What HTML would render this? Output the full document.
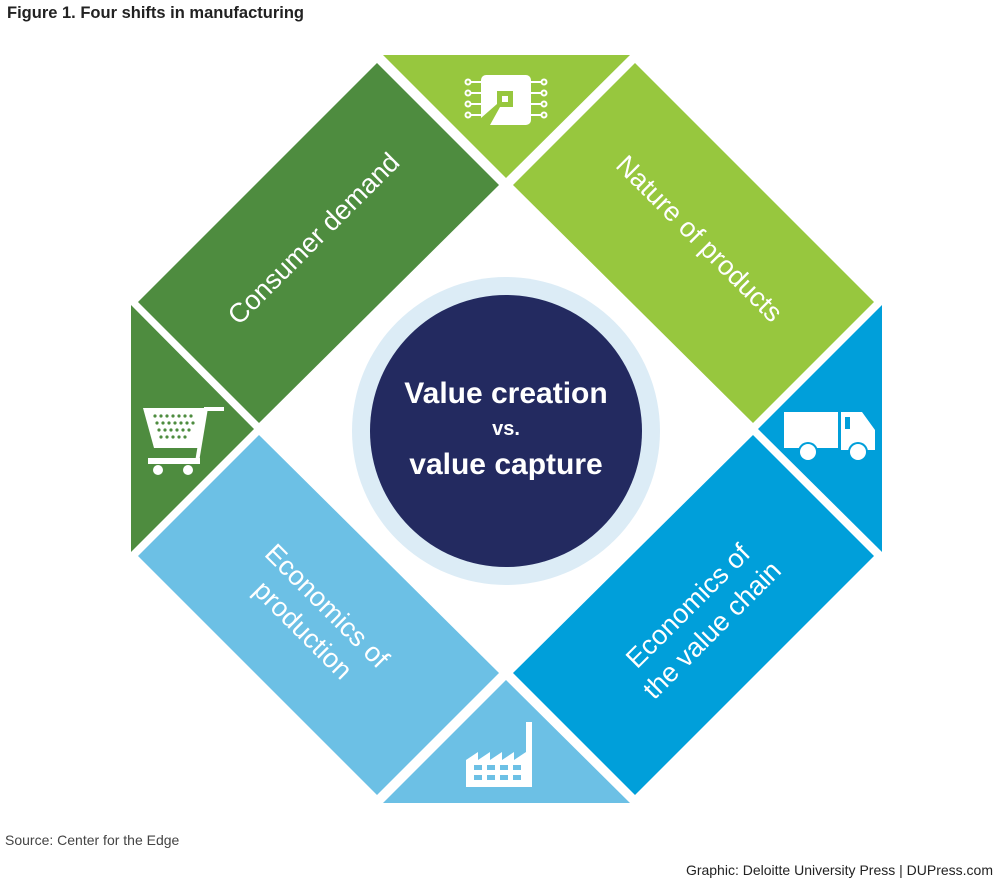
<!DOCTYPE html>
<html><head><meta charset="utf-8"><style>
html,body{margin:0;padding:0;background:#fff;}
svg{display:block;}
</style></head><body>
<svg width="1000" height="879" viewBox="0 0 1000 879" xmlns="http://www.w3.org/2000/svg" font-family="Liberation Sans, sans-serif">
<text x="7" y="18" font-size="16.5" font-weight="bold" fill="#222">Figure 1. Four shifts in manufacturing</text>

<polygon points="383,55 630,55 506,178" fill="#97c73e"/>
<polygon points="131,305 131,552 254,429" fill="#4e8c3f"/>
<polygon points="882,305 882,552 758,429" fill="#009fda"/>
<polygon points="383,803 630,803 506,680" fill="#6cc0e5"/>

<polygon points="377,63 499,185 259,423 138,302" fill="#4e8c3f"/>
<polygon points="635,63 513,185 753,423 874,302" fill="#97c73e"/>
<polygon points="377,795 499,673 259,435 138,556" fill="#6cc0e5"/>
<polygon points="635,795 513,673 753,435 874,556" fill="#009fda"/>

<text transform="translate(320,245) rotate(-45)" text-anchor="middle" font-size="27" fill="#fff">Consumer demand</text>
<text transform="translate(693,245) rotate(45)" text-anchor="middle" font-size="27" fill="#fff">Nature of products</text>
<g transform="translate(315,618) rotate(45)" fill="#fff" font-size="27" text-anchor="middle">
<text x="0" y="-8">Economics of</text><text x="0" y="26">production</text></g>
<g transform="translate(700,618) rotate(-45)" fill="#fff" font-size="27" text-anchor="middle">
<text x="0" y="-8">Economics of</text><text x="0" y="26">the value chain</text></g>

<circle cx="506" cy="431" r="154" fill="#dcecf6"/>
<circle cx="506" cy="431" r="136" fill="#232a60"/>
<text x="506" y="403" text-anchor="middle" font-size="30" font-weight="bold" fill="#fff">Value creation</text>
<text x="506" y="435" text-anchor="middle" font-size="20" font-weight="bold" fill="#fff">vs.</text>
<text x="506" y="474" text-anchor="middle" font-size="30" font-weight="bold" fill="#fff">value capture</text>

<g fill="#fff" stroke="#fff">
<rect x="481" y="75" width="50" height="50" rx="5" stroke="none"/>
<g fill="none" stroke-width="2">
<circle cx="468" cy="82" r="2.5"/><circle cx="468" cy="93" r="2.5"/><circle cx="468" cy="104" r="2.5"/><circle cx="468" cy="115" r="2.5"/>
<circle cx="544" cy="82" r="2.5"/><circle cx="544" cy="93" r="2.5"/><circle cx="544" cy="104" r="2.5"/><circle cx="544" cy="115" r="2.5"/>
<line x1="471" y1="82" x2="481" y2="82"/><line x1="471" y1="93" x2="481" y2="93"/><line x1="471" y1="104" x2="481" y2="104"/><line x1="471" y1="115" x2="481" y2="115"/>
<line x1="531" y1="82" x2="541" y2="82"/><line x1="531" y1="93" x2="541" y2="93"/><line x1="531" y1="104" x2="541" y2="104"/><line x1="531" y1="115" x2="541" y2="115"/>
</g></g>
<rect x="497" y="91" width="16" height="16" fill="#97c73e"/>
<rect x="502" y="96" width="6" height="6" fill="#fff"/>
<polygon points="481,125 481,118 497,104 500,107 490,125" fill="#97c73e"/>

<g fill="#fff">
<polygon points="143,408 206,408 200,448 154,448"/>
<rect x="204" y="407" width="20" height="4"/>
<polygon points="204,408 208,408 199,462 195,462"/>
<rect x="148" y="458" width="52" height="6"/>
<circle cx="158" cy="470" r="5"/><circle cx="188" cy="470" r="5"/>
</g>
<g fill="#4e8c3f">
<circle cx="155" cy="416" r="1.6"/><circle cx="161" cy="416" r="1.6"/><circle cx="167" cy="416" r="1.6"/><circle cx="173" cy="416" r="1.6"/><circle cx="179" cy="416" r="1.6"/><circle cx="185" cy="416" r="1.6"/><circle cx="191" cy="416" r="1.6"/>
<circle cx="157" cy="423" r="1.6"/><circle cx="163" cy="423" r="1.6"/><circle cx="169" cy="423" r="1.6"/><circle cx="175" cy="423" r="1.6"/><circle cx="181" cy="423" r="1.6"/><circle cx="187" cy="423" r="1.6"/><circle cx="193" cy="423" r="1.6"/>
<circle cx="159" cy="430" r="1.6"/><circle cx="165" cy="430" r="1.6"/><circle cx="171" cy="430" r="1.6"/><circle cx="177" cy="430" r="1.6"/><circle cx="183" cy="430" r="1.6"/><circle cx="189" cy="430" r="1.6"/>
<circle cx="161" cy="437" r="1.6"/><circle cx="167" cy="437" r="1.6"/><circle cx="173" cy="437" r="1.6"/><circle cx="179" cy="437" r="1.6"/><circle cx="185" cy="437" r="1.6"/>
</g>

<g fill="#fff">
<rect x="784" y="412" width="54" height="36"/>
<path d="M841,412 H862 L875,430 V450 H841 Z"/>
</g>
<rect x="845" y="417" width="5" height="12" fill="#009fda"/>
<circle cx="808" cy="452" r="10" fill="#009fda"/><circle cx="858" cy="452" r="10" fill="#009fda"/>
<circle cx="808" cy="452" r="8" fill="#fff"/><circle cx="858" cy="452" r="8" fill="#fff"/>

<g fill="#fff">
<path d="M466,787 V760 L478,752 V760 L490,752 V760 L502,752 V760 L514,752 V760 L526,752 V722 H532 V787 Z"/>
</g>
<g fill="#6cc0e5">
<rect x="474" y="765" width="8" height="5"/><rect x="487" y="765" width="8" height="5"/><rect x="500" y="765" width="8" height="5"/><rect x="513" y="765" width="8" height="5"/>
<rect x="474" y="775" width="8" height="5"/><rect x="487" y="775" width="8" height="5"/><rect x="500" y="775" width="8" height="5"/><rect x="513" y="775" width="8" height="5"/>
</g>

<text x="5" y="845" font-size="14" fill="#444">Source: Center for the Edge</text>
<text x="993" y="875" text-anchor="end" font-size="14" fill="#222">Graphic: Deloitte University Press  |  DUPress.com</text>
</svg>
</body></html>
